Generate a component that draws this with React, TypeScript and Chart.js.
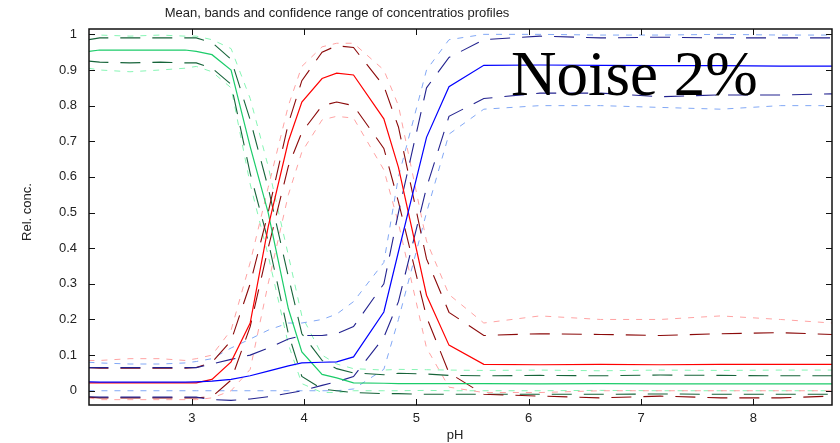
import React, { useEffect, useRef } from "react";
import { Chart, registerables } from "chart.js";

Chart.register(...registerables);

const titleText = "Mean, bands and confidence range of concentratios profiles";
const xLabel = "pH";
const yLabel = "Rel. conc.";
const noteText = "Noise 2%";

const xTicks = [3, 4, 5, 6, 7, 8];
const yTicks = [0, 0.1, 0.2, 0.3, 0.4, 0.5, 0.6, 0.7, 0.8, 0.9, 1];

const pH = [2.08, 2.18, 2.45, 2.72, 2.94, 3.04, 3.18, 3.35, 3.52, 3.68, 3.86, 3.98, 4.16, 4.29, 4.44, 4.71, 4.84, 5.09, 5.29, 5.6, 6.1, 6.64, 7.17, 7.71, 8.24, 8.7];

const greenMean = [0.952, 0.956, 0.956, 0.956, 0.956, 0.952, 0.943, 0.9, 0.685, 0.5, 0.23, 0.109, 0.046, 0.036, 0.022, 0.021, 0.02, 0.02, 0.02, 0.02, 0.019, 0.02, 0.019, 0.019, 0.019, 0.019];
const greenUpper = [0.985, 0.99, 0.99, 0.99, 0.99, 0.99, 0.977, 0.93, 0.76, 0.57, 0.32, 0.16, 0.085, 0.062, 0.05, 0.045, 0.049, 0.047, 0.043, 0.042, 0.043, 0.042, 0.044, 0.043, 0.042, 0.042];
const greenLower = [0.925, 0.922, 0.92, 0.922, 0.92, 0.92, 0.905, 0.86, 0.61, 0.42, 0.16, 0.04, 0.005, 0.0, -0.005, -0.008, -0.008, -0.01, -0.01, -0.01, -0.01, -0.01, -0.009, -0.01, -0.01, -0.01];
const greenConfHi = [1.0, 0.998, 0.995, 0.998, 0.995, 0.995, 0.985, 0.96, 0.82, 0.63, 0.38, 0.21, 0.1, 0.075, 0.062, 0.058, 0.06, 0.059, 0.058, 0.057, 0.058, 0.056, 0.058, 0.057, 0.058, 0.058];
const greenConfLo = [0.905, 0.9, 0.895, 0.9, 0.905, 0.91, 0.895, 0.85, 0.58, 0.38, 0.13, 0.02, -0.005, -0.005, 0.0, 0.0, 0.0, 0.001, 0.0, 0.0, 0.0, 0.001, 0.0, 0.0, 0.0, 0.0];

const redMean = [0.022, 0.022, 0.022, 0.022, 0.022, 0.022, 0.032, 0.081, 0.19, 0.46, 0.7, 0.81, 0.876, 0.891, 0.886, 0.763, 0.627, 0.268, 0.128, 0.074, 0.073, 0.074, 0.073, 0.074, 0.074, 0.074];
const redUpper = [0.065, 0.063, 0.063, 0.063, 0.063, 0.065, 0.08, 0.14, 0.3, 0.5, 0.75, 0.87, 0.95, 0.968, 0.963, 0.855, 0.74, 0.37, 0.22, 0.155, 0.16, 0.158, 0.155, 0.16, 0.163, 0.158];
const redLower = [-0.018, -0.02, -0.02, -0.02, -0.02, -0.02, -0.017, 0.03, 0.18, 0.4, 0.63, 0.725, 0.8, 0.81, 0.8, 0.68, 0.53, 0.207, 0.05, -0.01, -0.015, -0.02, -0.015, -0.02, -0.02, -0.015];
const redConfHi = [0.085, 0.085, 0.09, 0.09, 0.085, 0.09, 0.1, 0.17, 0.36, 0.57, 0.8, 0.91, 0.965, 0.975, 0.975, 0.9, 0.8, 0.42, 0.27, 0.19, 0.21, 0.2, 0.2, 0.21, 0.2, 0.19];
const redConfLo = [-0.02, -0.025, -0.025, -0.025, -0.025, -0.025, -0.02, 0.0, 0.06, 0.3, 0.55, 0.67, 0.76, 0.77, 0.765, 0.62, 0.47, 0.12, 0.01, -0.005, -0.005, 0.0, 0.0, 0.0, 0.0, 0.0];

const blueMean = [0.025, 0.024, 0.024, 0.024, 0.024, 0.025, 0.027, 0.032, 0.042, 0.055, 0.07, 0.078, 0.08, 0.081, 0.095, 0.221, 0.39, 0.711, 0.853, 0.913, 0.914, 0.913, 0.912, 0.912, 0.911, 0.911];
const blueUpper = [0.065, 0.065, 0.065, 0.065, 0.065, 0.065, 0.075, 0.088, 0.1, 0.12, 0.145, 0.155, 0.155, 0.16, 0.18, 0.3, 0.5, 0.85, 0.935, 0.985, 0.995, 0.99, 0.992, 0.99, 0.99, 0.99];
const blueLower = [-0.017, -0.018, -0.018, -0.018, -0.018, -0.018, -0.025, -0.027, -0.023, -0.017, -0.007, 0.0, 0.015, 0.025, 0.04, 0.15, 0.25, 0.57, 0.77, 0.82, 0.835, 0.835, 0.825, 0.83, 0.83, 0.833];
const blueConfHi = [0.08, 0.078, 0.075, 0.075, 0.078, 0.082, 0.09, 0.12, 0.145, 0.17, 0.19, 0.19, 0.2, 0.215, 0.25, 0.36, 0.6, 0.9, 0.985, 1.0, 1.0, 0.998, 0.998, 1.0, 0.998, 0.998];
const blueConfLo = [0.0, 0.0, 0.0, 0.0, 0.0, 0.0, 0.0, 0.0, 0.0, 0.0, 0.0, 0.0, 0.0, 0.0, 0.005, 0.06, 0.2, 0.5, 0.72, 0.79, 0.8, 0.8, 0.795, 0.79, 0.8, 0.8];

const X_MIN = 2.085;
const X_MAX = 8.7;
const Y_MIN = -0.04;
const Y_MAX = 1.015;

const MEAN_DASH: number[] = [];
const BAND_DASH = [20, 12];
const CONF_DASH = [6, 7];

const SANS = '"Liberation Sans", Arial, sans-serif';

function pts(arr: number[]) {
  return pH.map((x, i) => ({ x, y: arr[i] }));
}

function ds(label: string, arr: number[], color: string, dash: number[], width: number) {
  return {
    label,
    data: pts(arr),
    borderColor: color,
    backgroundColor: color,
    borderWidth: width,
    borderDash: dash,
    pointRadius: 0,
    tension: 0,
    fill: false,
  };
}

const decor = {
  id: "decor",
  afterDatasetsDraw(chart: any) {
    const { ctx, chartArea } = chart;
    const { left, right, top, bottom } = chartArea;
    const xs = chart.scales.x;
    const ys = chart.scales.y;
    ctx.save();
    ctx.strokeStyle = "#111";
    ctx.lineWidth = 1;
    ctx.beginPath();
    xTicks.forEach((v) => {
      const px = Math.round(xs.getPixelForValue(v)) + 0.5;
      ctx.moveTo(px, bottom);
      ctx.lineTo(px, bottom - 6);
      ctx.moveTo(px, top);
      ctx.lineTo(px, top + 6);
    });
    yTicks.forEach((v) => {
      const py = Math.round(ys.getPixelForValue(v)) + 0.5;
      ctx.moveTo(left, py);
      ctx.lineTo(left + 6, py);
      ctx.moveTo(right, py);
      ctx.lineTo(right - 6, py);
    });
    ctx.stroke();
    ctx.lineWidth = 1.5;
    ctx.strokeStyle = "#111";
    ctx.strokeRect(left, top, right - left, bottom - top);
    ctx.fillStyle = "#000";
    ctx.font = '63px "Liberation Serif", "Times New Roman", serif';
    ctx.textAlign = "left";
    ctx.textBaseline = "alphabetic";
    ctx.fillText(noteText, 511, 95);
    ctx.fillStyle = "#222";
    ctx.font = "13px " + SANS;
    ctx.textAlign = "center";
    ctx.textBaseline = "middle";
    ctx.fillText(titleText, 337, 13);
    ctx.fillText(xLabel, 455, 435);
    ctx.translate(27, 212);
    ctx.rotate(-Math.PI / 2);
    ctx.fillText(yLabel, 0, 0);
    ctx.restore();
  },
};

export default function App() {
  const ref = useRef<HTMLCanvasElement | null>(null);
  useEffect(() => {
    document.body.style.margin = "0";
    if (!ref.current) return;
    const chart = new Chart(ref.current, {
      type: "line",
      data: {
        datasets: [
          ds("blue mean", blueMean, "#0000ff", MEAN_DASH, 1.2),
          ds("red mean", redMean, "#ff0000", MEAN_DASH, 1.2),
          ds("green mean", greenMean, "#1ccc6a", MEAN_DASH, 1.2),
          ds("blue upper", blueUpper, "#23238f", BAND_DASH, 1.1),
          ds("blue lower", blueLower, "#23238f", BAND_DASH, 1.1),
          ds("red upper", redUpper, "#8b0a0a", BAND_DASH, 1.1),
          ds("red lower", redLower, "#8b0a0a", BAND_DASH, 1.1),
          ds("green upper", greenUpper, "#17643a", BAND_DASH, 1.1),
          ds("green lower", greenLower, "#17643a", BAND_DASH, 1.1),
          ds("blue conf hi", blueConfHi, "#82a8f5", CONF_DASH, 1),
          ds("blue conf lo", blueConfLo, "#82a8f5", CONF_DASH, 1),
          ds("red conf hi", redConfHi, "#ffa3a3", CONF_DASH, 1),
          ds("red conf lo", redConfLo, "#ffa3a3", CONF_DASH, 1),
          ds("green conf hi", greenConfHi, "#86f5b4", CONF_DASH, 1),
          ds("green conf lo", greenConfLo, "#86f5b4", CONF_DASH, 1),
        ],
      },
      options: {
        animation: false,
        responsive: false,
        devicePixelRatio: 1,
        layout: { padding: { top: 29, right: 8, left: 0, bottom: 0 } },
        plugins: { legend: { display: false }, title: { display: false }, tooltip: { enabled: false } },
        scales: {
          x: {
            type: "linear",
            min: X_MIN,
            max: X_MAX,
            grid: { display: false, drawTicks: false },
            border: { display: false },
            afterBuildTicks: (s: any) => {
              s.ticks = xTicks.map((v) => ({ value: v }));
            },
            afterFit: (s: any) => {
              s.height = 38;
            },
            ticks: {
              padding: 6,
              color: "#222",
              font: { family: SANS, size: 13 },
              maxRotation: 0,
              callback: (v: any) => String(v),
            },
          },
          y: {
            type: "linear",
            min: Y_MIN,
            max: Y_MAX,
            grid: { display: false, drawTicks: false },
            border: { display: false },
            afterBuildTicks: (s: any) => {
              s.ticks = yTicks.map((v) => ({ value: v }));
            },
            afterFit: (s: any) => {
              s.width = 89;
            },
            ticks: {
              padding: 12,
              color: "#222",
              font: { family: SANS, size: 13 },
              callback: (v: any) => String(Number(Number(v).toFixed(1))),
            },
          },
        },
      },
      plugins: [decor],
    });
    return () => chart.destroy();
  }, []);
  return (
    <div style={{ position: "absolute", left: 0, top: 0, width: 840, height: 443, background: "#fff" }}>
      <canvas ref={ref} width={840} height={443} style={{ width: 840, height: 443 }} />
    </div>
  );
}
